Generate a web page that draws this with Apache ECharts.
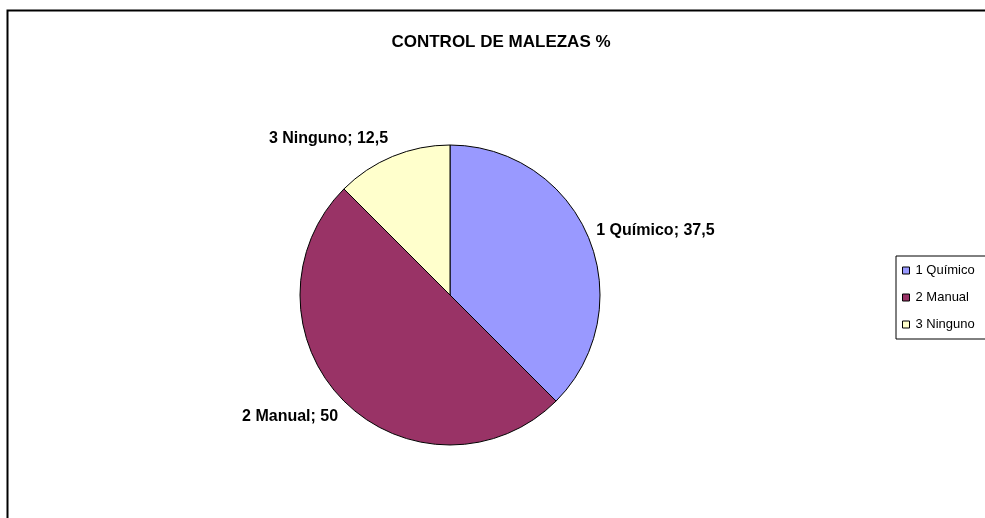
<!DOCTYPE html>
<html><head><meta charset="utf-8">
<script src="https://cdn.jsdelivr.net/npm/echarts@6/dist/echarts.min.js"></script>
<style>html,body{margin:0;padding:0;background:#fff;overflow:hidden}#c{width:985px;height:518px}</style>
</head><body><div id="c"></div>
<script>
const categories = ['1 Químico', '2 Manual', '3 Ninguno'];
const values = [37.5, 50, 12.5];
const colors = ['#9999FF', '#993366', '#FFFFCC'];
const titleText = 'CONTROL DE MALEZAS %';
const labelShiftY = [-5, 13, -14];
const labelShiftX = [-1, 2, 2];

const chart = echarts.init(document.getElementById('c'), null, {renderer: 'canvas'});
const fmt = v => String(v).replace('.', ',');
chart.setOption({
  animation: false,
  backgroundColor: '#fff',
  title: {
    text: titleText, left: 496, top: 29, textAlign: 'center',
    textStyle: {fontFamily: 'Liberation Sans', fontSize: 17, fontWeight: 'bold', color: '#000'}
  },
  legend: {
    orient: 'vertical', left: 896, top: 256,
    data: categories,
    icon: 'rect', itemWidth: 7, itemHeight: 7, itemGap: 14,
    padding: [8, 40, 8, 6],
    borderColor: '#000', borderWidth: 1,
    textStyle: {fontFamily: 'Liberation Sans', fontSize: 13, color: '#000', padding: [0, 0, 0, 1]},
    itemStyle: {borderColor: '#000', borderWidth: 1}
  },
  graphic: [{
    type: 'rect', silent: true, z: -1,
    shape: {x: 7.5, y: 10.5, width: 1100, height: 700},
    style: {fill: 'none', stroke: '#000', lineWidth: 2}
  }],
  series: [{
    type: 'pie',
    center: [450, 295], radius: 150,
    startAngle: 90, clockwise: true,
    data: categories.map((n, i) => ({name: n, value: values[i], itemStyle: {color: colors[i]}})),
    itemStyle: {borderColor: '#000', borderWidth: 1},
    label: {
      show: true, position: 'outside',
      formatter: p => p.name + '; ' + fmt(p.value),
      fontFamily: 'Liberation Sans', fontSize: 16, fontWeight: 'bold', color: '#000'
    },
    labelLine: {show: false, length: 4, length2: 0},
    labelLayout: p => ({dx: labelShiftX[p.dataIndex], dy: labelShiftY[p.dataIndex]}),
    emphasis: {disabled: true}
  }]
});
</script></body></html>
